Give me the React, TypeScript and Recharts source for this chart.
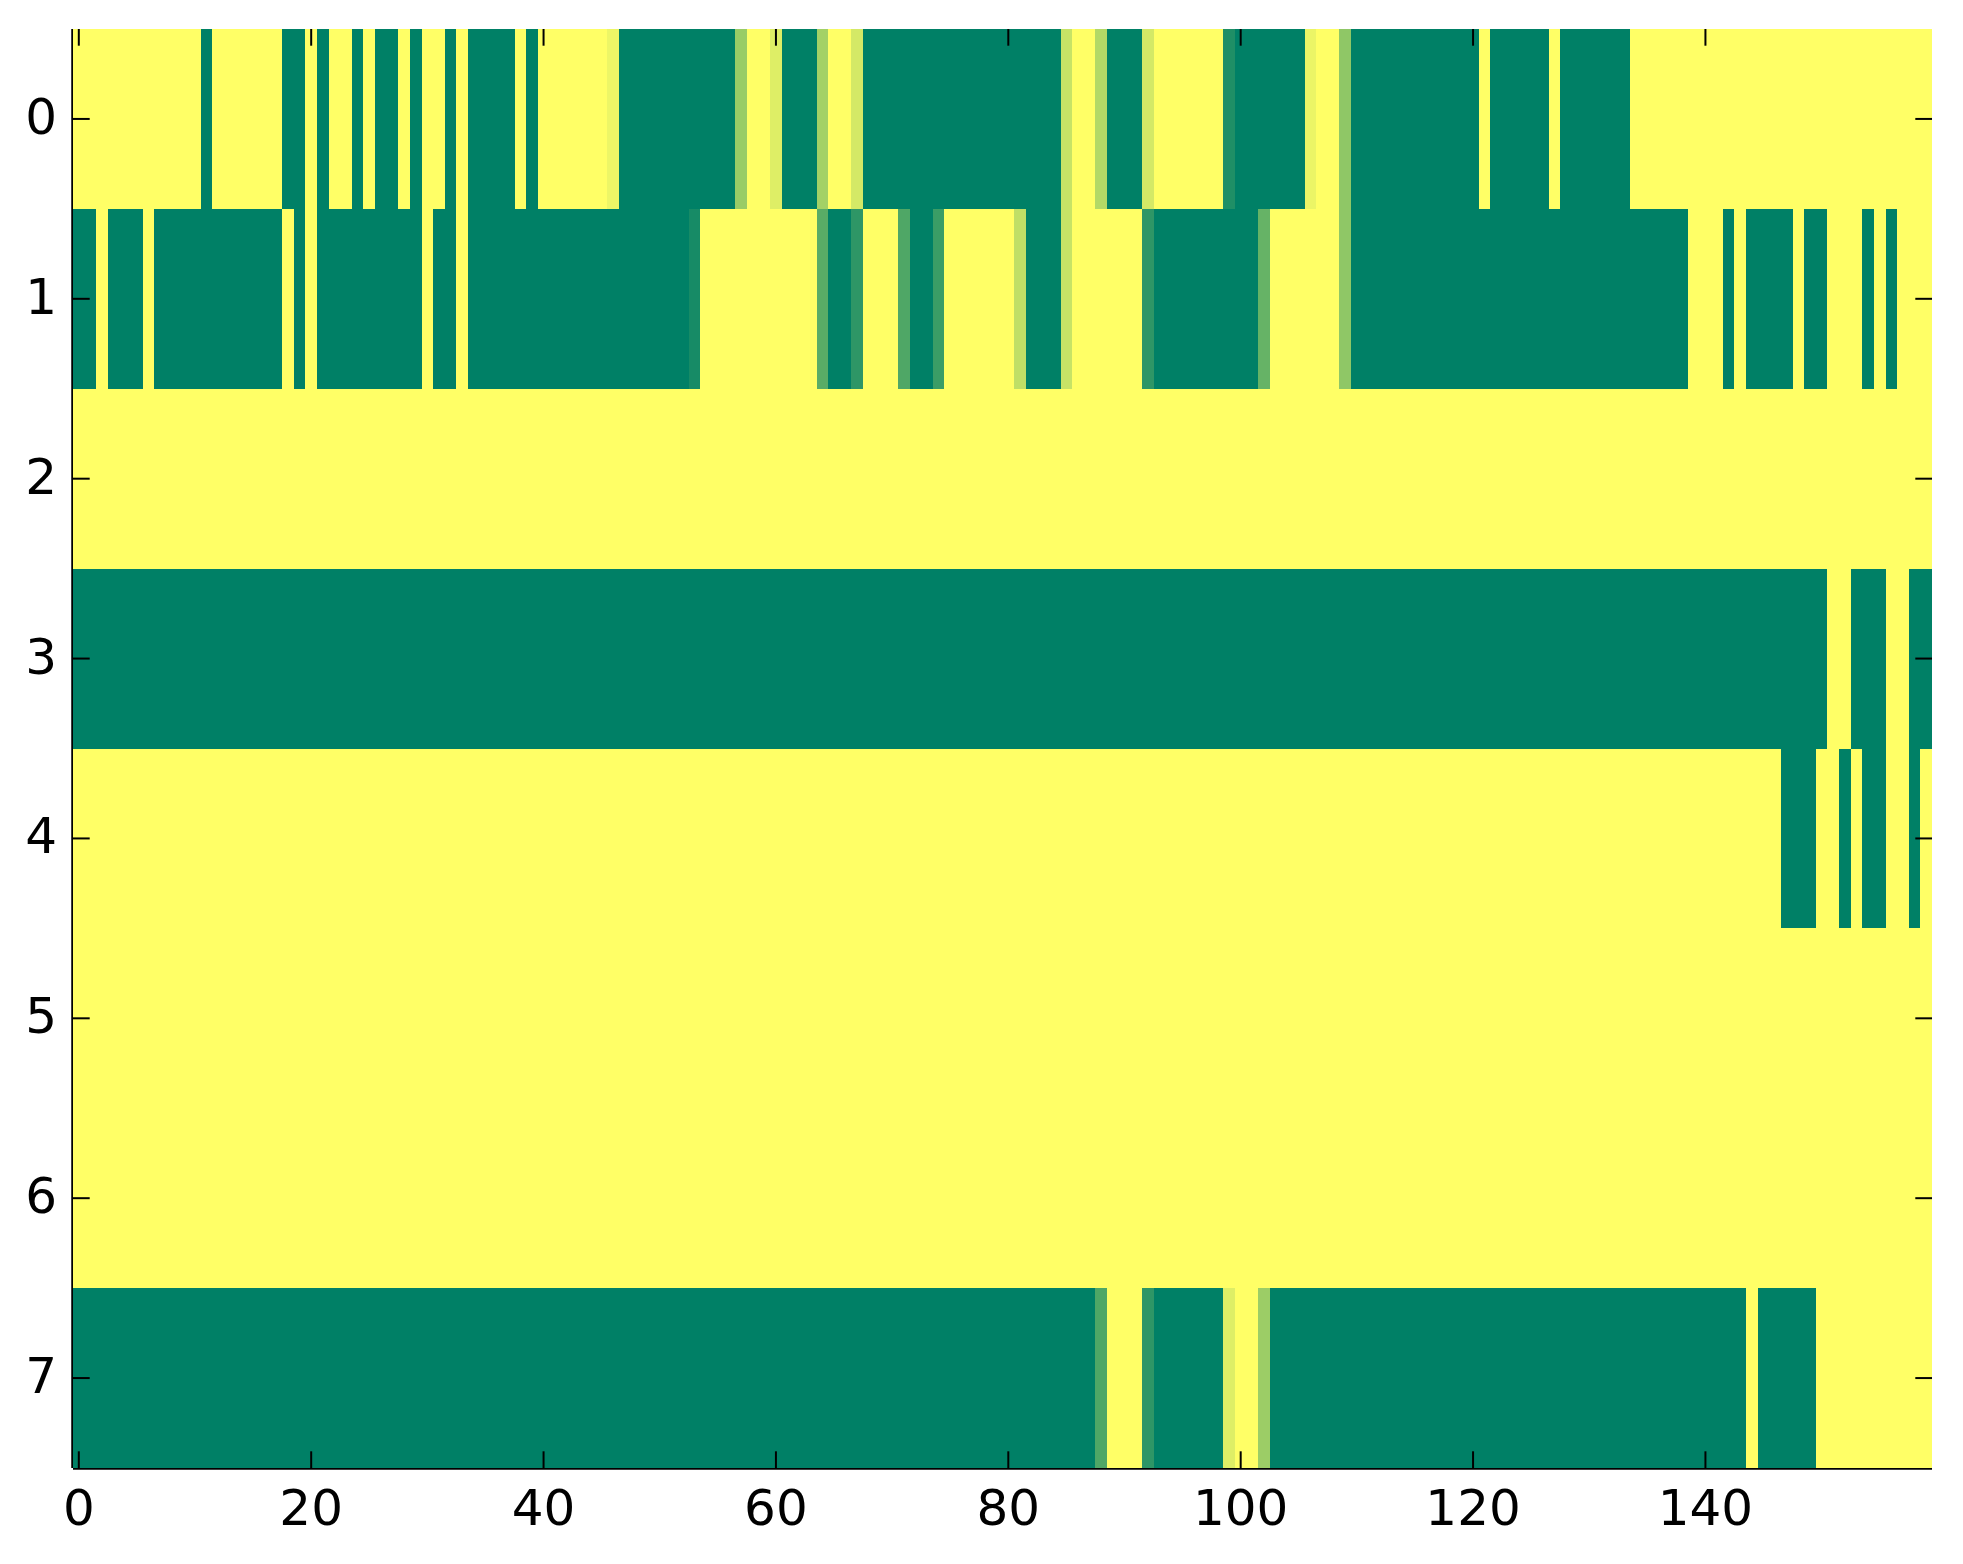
import React from 'react';
import { ScatterChart, Scatter, XAxis, YAxis } from 'recharts';

// each row of the image as [value, run length] pairs, 160 columns per row
const row0Runs: [number, number][] = [
  [1, 11], [0, 1], [1, 6], [0, 2], [1, 1], [0, 1], [1, 2], [0, 1], [1, 1], [0, 2], [1, 1], [0, 1], [1, 2], [0, 1],
  [1, 1], [0, 4], [1, 1], [0, 1], [1, 6], [0.93, 1], [0, 10], [0.6, 1], [1, 2], [0.87, 1], [0, 3], [0.64, 1],
  [1, 2], [0.83, 1], [0, 17], [0.78, 1], [1, 2], [0.7, 1], [0, 3], [0.83, 1], [1, 6], [0.12, 1], [0, 6],
  [0.92, 1], [1, 2], [0.56, 1], [0, 11], [1, 1], [0, 5], [1, 1], [0, 6], [1, 26],
];
const row1Runs: [number, number][] = [
  [0, 2], [1, 1], [0, 3], [1, 1], [0, 11], [1, 1], [0, 1], [1, 1], [0, 9], [1, 1], [0, 2], [1, 1], [0, 19],
  [0.09, 1], [1, 10], [0.35, 1], [0, 2], [0.18, 1], [1, 3], [0.31, 1], [0, 2], [0.23, 1], [1, 6], [0.75, 1],
  [0, 3], [0.78, 1], [1, 6], [0.18, 1], [0, 9], [0.4, 1], [1, 6], [0.56, 1], [0, 29], [1, 3], [0, 1], [1, 1],
  [0, 4], [1, 1], [0, 2], [1, 3], [0, 1], [1, 1], [0, 1], [1, 3],
];
const row2Runs: [number, number][] = [[1, 160]];
const row3Runs: [number, number][] = [[0, 151], [1, 2], [0, 3], [1, 2], [0, 2]];
const row4Runs: [number, number][] = [[1, 147], [0, 3], [1, 2], [0, 1], [1, 1], [0, 2], [1, 2], [0, 1], [1, 1]];
const row5Runs: [number, number][] = [[1, 160]];
const row6Runs: [number, number][] = [[1, 160]];
const row7Runs: [number, number][] = [
  [0, 88], [0.31, 1], [1, 3], [0.18, 1], [0, 6], [0.87, 1], [1, 2], [0.61, 1], [0, 41], [1, 1], [0, 5], [1, 10],
];

const rows = [row0Runs, row1Runs, row2Runs, row3Runs, row4Runs, row5Runs, row6Runs, row7Runs];
const xTicks = [0, 20, 40, 60, 80, 100, 120, 140];
const yTicks = [0, 1, 2, 3, 4, 5, 6, 7];

const NCOLS = 160;
const NROWS = 8;

const cells: { x: number; y: number; v: number }[] = [];
rows.forEach((runs, r) => {
  let c = 0;
  runs.forEach(([v, n]) => {
    for (let i = 0; i < n; i++) {
      cells.push({ x: c, y: r, v });
      c++;
    }
  });
});

const W = 1963;
const H = 1564;
const PLOT_LEFT = 73;
const PLOT_TOP = 29;
const PLOT_RIGHT = 1932;
const PLOT_BOTTOM = 1468;
const CELL_W = (PLOT_RIGHT - PLOT_LEFT) / NCOLS;
const CELL_H = (PLOT_BOTTOM - PLOT_TOP) / NROWS;
const TICK_LEN = 16.7;
const FONT = '"DejaVu Sans", sans-serif';

// matplotlib "summer" colormap
const summer = (v: number) =>
  `rgb(${Math.round(v * 255)},${Math.round((0.5 + v / 2) * 255)},102)`;

const CellShape = (props: any) => {
  const { cx, cy, payload } = props;
  return (
    <rect
      x={cx - CELL_W / 2}
      y={cy - CELL_H / 2}
      width={CELL_W}
      height={CELL_H}
      fill={summer(payload.v)}
      shapeRendering="crispEdges"
    />
  );
};

const XTick = (props: any) => {
  const { x, payload } = props;
  return (
    <g>
      <line x1={x} x2={x} y1={PLOT_BOTTOM} y2={PLOT_BOTTOM - TICK_LEN} stroke="#000" strokeWidth={2} />
      <line x1={x} x2={x} y1={PLOT_TOP} y2={PLOT_TOP + TICK_LEN} stroke="#000" strokeWidth={2} />
      <text x={x} y={1525} textAnchor="middle" fontSize={50} fontFamily={FONT} fill="#000">
        {payload.value}
      </text>
    </g>
  );
};

const YTick = (props: any) => {
  const { y, payload } = props;
  return (
    <g>
      <line x1={PLOT_LEFT} x2={PLOT_LEFT + TICK_LEN} y1={y} y2={y} stroke="#000" strokeWidth={2} />
      <line x1={PLOT_RIGHT} x2={PLOT_RIGHT - TICK_LEN} y1={y} y2={y} stroke="#000" strokeWidth={2} />
      <text x={57} y={y + 15} textAnchor="end" fontSize={50} fontFamily={FONT} fill="#000">
        {payload.value}
      </text>
    </g>
  );
};

const frame = { stroke: '#000', strokeWidth: 3.5 };

export default function App() {
  return (
    <div style={{ position: 'absolute', left: 0, top: 0, width: W, height: H, background: '#fff' }}>
      <ScatterChart width={W} height={H} margin={{ top: PLOT_TOP, right: W - PLOT_RIGHT, bottom: 0, left: 0 }}>
        <XAxis
          xAxisId="bottom"
          type="number"
          dataKey="x"
          domain={[-0.5, 159.5]}
          ticks={xTicks}
          interval={0}
          height={H - PLOT_BOTTOM}
          axisLine={frame}
          tickLine={false}
          tick={<XTick />}
          allowDataOverflow
        />
        <XAxis
          xAxisId="top"
          orientation="top"
          type="number"
          dataKey="x"
          domain={[-0.5, 159.5]}
          height={0}
          axisLine={frame}
          tickLine={false}
          tick={false}
          allowDataOverflow
        />
        <YAxis
          yAxisId="left"
          type="number"
          dataKey="y"
          domain={[-0.5, 7.5]}
          reversed
          ticks={yTicks}
          interval={0}
          width={PLOT_LEFT}
          axisLine={frame}
          tickLine={false}
          tick={<YTick />}
          allowDataOverflow
        />
        <YAxis
          yAxisId="right"
          orientation="right"
          type="number"
          dataKey="y"
          domain={[-0.5, 7.5]}
          reversed
          width={0}
          axisLine={frame}
          tickLine={false}
          tick={false}
          allowDataOverflow
        />
        <Scatter
          data={cells}
          xAxisId="bottom"
          yAxisId="left"
          shape={<CellShape />}
          isAnimationActive={false}
        />
      </ScatterChart>
    </div>
  );
}
